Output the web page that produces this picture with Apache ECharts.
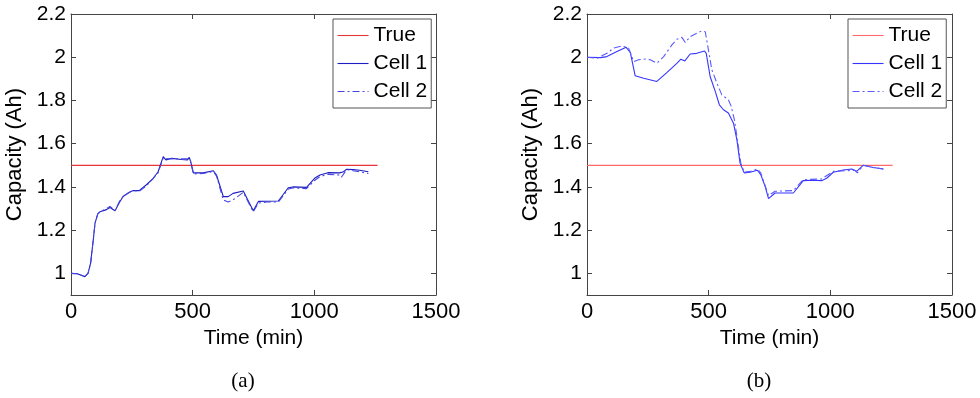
<!DOCTYPE html>
<html>
<head>
<meta charset="utf-8">
<script src="https://cdn.jsdelivr.net/npm/echarts@6/dist/echarts.min.js"></script>
<style>
html,body{margin:0;padding:0;background:#fff;}
#c{width:980px;height:398px;}
</style>
</head>
<body>
<div id="c"></div>
<script>
// ---- data (time in min, capacity in Ah) ----
var xTicks = [0, 500, 1000, 1500];
var yTicks = [1, 1.2, 1.4, 1.6, 1.8, 2, 2.2];

var aTrue = [[0, 1.5], [1260, 1.5]];
var aCell1 = [[0,1.0],[26,0.998],[57,0.985],[70,1.0],[81,1.05],[92,1.16],[99,1.234],[110,1.275],[119,1.285],[146,1.295],[160,1.305],[181,1.29],[200,1.33],[215,1.357],[240,1.375],[256,1.383],[280,1.383],[310,1.41],[338,1.44],[358,1.47],[379,1.54],[390,1.525],[413,1.532],[454,1.527],[479,1.525],[486,1.537],[491,1.52],[503,1.465],[543,1.465],[585,1.475],[598,1.455],[626,1.355],[646,1.355],[666,1.37],[708,1.381],[749,1.29],[770,1.333],[803,1.334],[852,1.335],[893,1.396],[912,1.40],[968,1.398],[1001,1.44],[1023,1.455],[1056,1.466],[1104,1.465],[1120,1.47],[1133,1.482],[1159,1.48],[1186,1.477],[1222,1.47]];
var aCell2 = [[0,1.0],[26,0.998],[57,0.985],[70,1.0],[81,1.05],[92,1.16],[99,1.234],[110,1.275],[119,1.285],[146,1.3],[160,1.31],[181,1.29],[200,1.335],[215,1.357],[240,1.375],[256,1.383],[280,1.38],[310,1.405],[338,1.44],[358,1.465],[379,1.535],[390,1.53],[413,1.53],[454,1.53],[479,1.53],[486,1.535],[491,1.52],[503,1.46],[543,1.462],[585,1.472],[598,1.45],[626,1.34],[646,1.33],[666,1.34],[708,1.375],[749,1.285],[770,1.325],[803,1.33],[852,1.33],[893,1.39],[912,1.395],[968,1.392],[1001,1.43],[1023,1.448],[1056,1.458],[1104,1.455],[1111,1.445],[1133,1.48],[1159,1.475],[1186,1.47],[1222,1.462]];

var bTrue = [[0, 1.5], [1256, 1.5]];
var bCell1 = [[0,2.0],[55,1.998],[82,2.003],[123,2.026],[161,2.046],[178,2.022],[198,1.914],[233,1.903],[287,1.888],[328,1.929],[369,1.972],[386,1.991],[402,1.983],[424,2.015],[451,2.018],[483,2.029],[490,2.018],[506,1.911],[527,1.842],[544,1.78],[561,1.757],[581,1.742],[602,1.695],[616,1.618],[629,1.51],[646,1.465],[670,1.468],[700,1.477],[714,1.457],[732,1.403],[746,1.346],[773,1.372],[807,1.372],[848,1.372],[889,1.429],[930,1.431],[964,1.429],[985,1.44],[1012,1.468],[1053,1.478],[1088,1.483],[1108,1.472],[1135,1.5],[1176,1.49],[1218,1.483]];
var bCell2 = [[0,2.0],[41,1.995],[82,2.018],[109,2.042],[144,2.052],[171,2.042],[192,1.98],[212,1.988],[233,1.992],[260,1.988],[287,1.972],[315,2.003],[349,2.057],[369,2.083],[390,2.092],[404,2.068],[424,2.095],[451,2.111],[472,2.122],[486,2.118],[499,2.034],[513,1.942],[534,1.88],[554,1.826],[581,1.803],[592,1.775],[606,1.71],[622,1.588],[632,1.51],[646,1.468],[673,1.472],[700,1.483],[714,1.465],[746,1.36],[773,1.38],[848,1.383],[889,1.434],[964,1.437],[1012,1.472],[1101,1.477],[1111,1.465],[1135,1.5],[1176,1.49],[1218,1.483]];

var seriesNames = ['True', 'Cell 1', 'Cell 2'];
var panelLabels = ['(a)', '(b)'];
var xTitle = 'Time (min)';
var yTitle = 'Capacity (Ah)';

// ---- chart ----
var FONT = '"Liberation Sans", Arial, sans-serif';
var frame = '#444';
var grids = [
  {left: 71, top: 14, width: 365, height: 281},
  {left: 587, top: 14, width: 365, height: 281}
];
function plain(v) { return String(v); }

function xAx(g, top) {
  return {
    type: 'value', gridIndex: g, min: 0, max: 1500, interval: 500,
    position: top ? 'top' : 'bottom',
    axisLine: {show: true, onZero: false, lineStyle: {color: frame, width: 1}},
    axisTick: {show: true, inside: true, length: 5, customValues: xTicks, lineStyle: {color: frame}},
    axisLabel: {show: !top, margin: 6, fontSize: 22, color: '#000', fontFamily: FONT, customValues: xTicks, formatter: plain},
    splitLine: {show: false},
    name: top ? '' : xTitle, nameLocation: 'middle', nameGap: 28,
    nameTextStyle: {fontSize: 21, color: '#000', fontFamily: FONT}
  };
}
function yAx(g, right) {
  return {
    type: 'value', gridIndex: g, min: 0.9, max: 2.2,
    position: right ? 'right' : 'left',
    axisLine: {show: true, onZero: false, lineStyle: {color: frame, width: 1}},
    axisTick: {show: true, inside: true, length: 5, customValues: yTicks, lineStyle: {color: frame}},
    axisLabel: {show: !right, margin: 5, fontSize: 21, color: '#000', fontFamily: FONT, customValues: yTicks, formatter: plain},
    splitLine: {show: false},
    name: right ? '' : yTitle, nameLocation: 'middle', nameGap: 45, nameRotate: 90,
    nameTextStyle: {fontSize: 22, color: '#000', fontFamily: FONT}
  };
}

var colors = [
  {t: '#e8353a', c1: '#1c1cc0', c2: '#4646e6'},
  {t: '#ff6a6a', c1: '#3535ff', c2: '#5a5aff'}
];
var dataSets = [[aTrue, aCell1, aCell2], [bTrue, bCell1, bCell2]];
var prefixes = ['a:', 'b:'];
var series = [];
for (var g = 0; g < 2; g++) {
  var col = colors[g];
  var styles = [
    {color: col.t, width: 1.2, type: 'solid'},
    {color: col.c1, width: 1.1, type: 'solid'},
    {color: col.c2, width: 1.1, type: [7, 3, 2, 3]}
  ];
  for (var s = 0; s < 3; s++) {
    series.push({
      type: 'line', name: prefixes[g] + seriesNames[s],
      xAxisIndex: g * 2, yAxisIndex: g * 2,
      data: dataSets[g][s], symbol: 'none', smooth: false,
      lineStyle: styles[s], itemStyle: {color: styles[s].color},
      emphasis: {disabled: true}
    });
  }
}

function legend(g, left) {
  return {
    show: true,
    orient: 'vertical', left: left, top: 19,
    data: seriesNames.map(function (n) { return prefixes[g] + n; }),
    formatter: function (n) { return n.slice(2); },
    itemWidth: 31, itemHeight: 14, itemGap: 7,
    padding: [6, 4, 6, 4],
    borderColor: '#555', borderWidth: 1, backgroundColor: '#fff',
    textStyle: {fontSize: 21, color: '#000', fontFamily: FONT},
    itemStyle: {opacity: 0, borderWidth: 0},
    lineStyle: {width: 1.1},
    selectedMode: false
  };
}

var option = {
  animation: false,
  backgroundColor: '#fff',
  grid: grids.map(function (r) { return Object.assign({show: false, containLabel: false}, r); }),
  xAxis: [xAx(0, false), xAx(0, true), xAx(1, false), xAx(1, true)],
  yAxis: [yAx(0, false), yAx(0, true), yAx(1, false), yAx(1, true)],
  legend: [legend(0, 333), legend(1, 848)],
  series: series,
  graphic: [
    {type: 'text', x: 243, y: 381, style: {text: panelLabels[0], fontSize: 21, fontFamily: '"Liberation Serif", "Times New Roman", serif', fill: '#000', align: 'center', verticalAlign: 'middle'}},
    {type: 'text', x: 759, y: 381, style: {text: panelLabels[1], fontSize: 21, fontFamily: '"Liberation Serif", "Times New Roman", serif', fill: '#000', align: 'center', verticalAlign: 'middle'}}
  ]
};

var chart = echarts.init(document.getElementById('c'), null, {renderer: 'canvas'});
chart.setOption(option);
</script>
</body>
</html>
